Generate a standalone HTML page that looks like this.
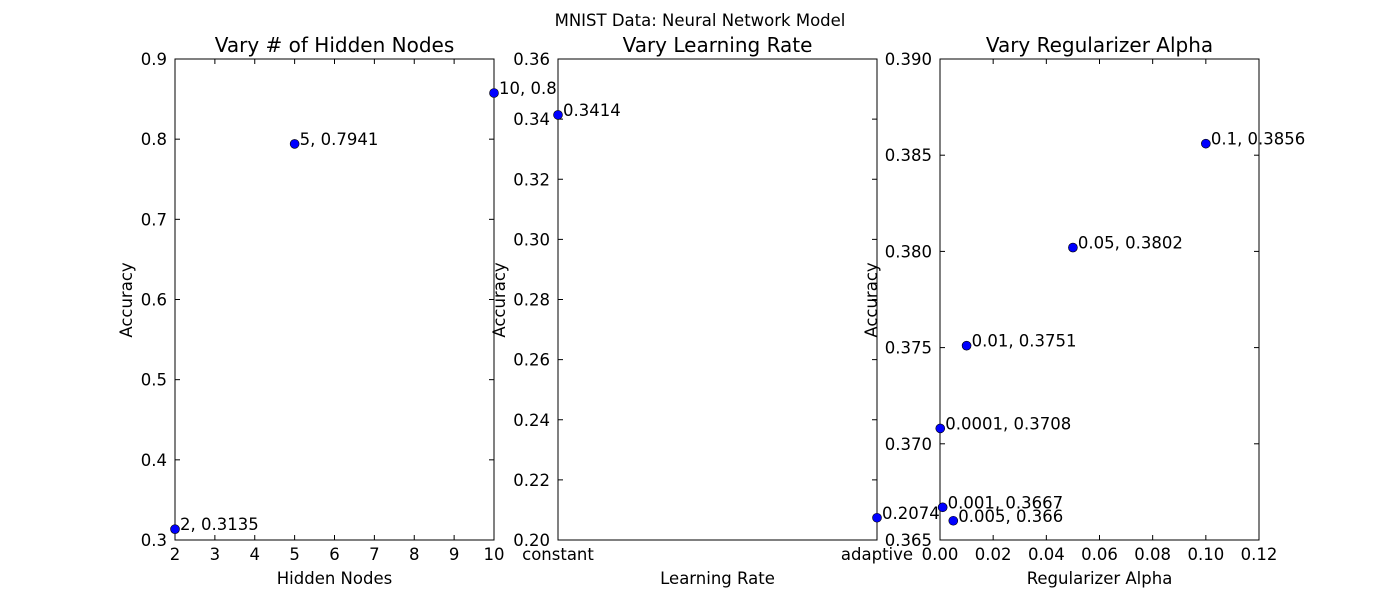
<!DOCTYPE html>
<html><head><meta charset="utf-8"><style>
html,body{margin:0;padding:0;background:#fff}
svg{display:block;font-family:"DejaVu Sans","Liberation Sans",sans-serif}
</style></head><body>
<svg id="chart" width="1400" height="600" xmlns="http://www.w3.org/2000/svg">
<rect width="1400" height="600" fill="#fff"/>
<text x="700" y="26" text-anchor="middle" font-size="16.5">MNIST Data: Neural Network Model</text>
</svg>
<script>
const p1X=[2,5,10];
const p1Y=[0.3135,0.7941,0.8576];
const p1Labels=["2, 0.3135","5, 0.7941","10, 0.8576"];
const p1XTicks=[2,3,4,5,6,7,8,9,10];
const p1YTicks=["0.3","0.4","0.5","0.6","0.7","0.8","0.9"];
const p2Cats=["constant","adaptive"];
const p2Y=[0.3414,0.2074];
const p2Labels=["0.3414","0.2074"];
const p2YTicks=["0.20","0.22","0.24","0.26","0.28","0.30","0.32","0.34","0.36"];
const p3X=[0.0001,0.001,0.005,0.01,0.05,0.1];
const p3Y=[0.3708,0.3667,0.366,0.3751,0.3802,0.3856];
const p3Labels=["0.0001, 0.3708","0.001, 0.3667","0.005, 0.366","0.01, 0.3751","0.05, 0.3802","0.1, 0.3856"];
const p3XTicks=["0.00","0.02","0.04","0.06","0.08","0.10","0.12"];
const p3YTicks=["0.365","0.370","0.375","0.380","0.385","0.390"];

const svgEl=document.getElementById('chart');
const NS='http://www.w3.org/2000/svg';
function mk(tag,attrs,parent){const e=document.createElementNS(NS,tag);for(const k in attrs)e.setAttribute(k,attrs[k]);(parent||svgEl).appendChild(e);return e;}
const axTop=59,axBot=540;
const FS=16.5;

function panel(o){
  const g=mk('g',{});
  
  
  const L=o.left,R=o.left+319;
  const sx=v=>L+(v-o.xmin)/(o.xmax-o.xmin)*(R-L);
  const sy=v=>axBot-(v-o.ymin)/(o.ymax-o.ymin)*(axBot-axTop);
  const bg=mk('rect',{x:L,y:axTop,width:R-L,height:axBot-axTop,fill:'#fff'},g);
  
  
  o.xt.forEach((t,i)=>{
    const v=o.xv(t,i),x=sx(v);
    mk('line',{x1:x,x2:x,y1:axBot,y2:axBot-5,stroke:'#000'},g);
    mk('line',{x1:x,x2:x,y1:axTop,y2:axTop+5,stroke:'#000'},g);
    const tx=mk('text',{x:x,y:axBot+20,'text-anchor':'middle','font-size':FS},g);
    tx.textContent=t;
    
    
  });
  o.yt.forEach(t=>{
    const y=sy(parseFloat(t));
    mk('line',{x1:L,x2:L+5,y1:y,y2:y,stroke:'#000'},g);
    mk('line',{x1:R,x2:R-5,y1:y,y2:y,stroke:'#000'},g);
    const tx=mk('text',{x:L-8,y:y+6,'text-anchor':'end','font-size':FS},g);
    tx.textContent=t;
    
    
  });
  const fr=mk('rect',{x:L,y:axTop,width:R-L,height:axBot-axTop,fill:'none',stroke:'#000'},g);
  
  
  o.px.forEach((xv,i)=>{
    const cx=sx(xv),cy=sy(o.py[i]);
    const c=mk('circle',{cx:cx,cy:cy,r:4.5,fill:'#0000ff',stroke:'#000','stroke-width':0.6},g);
    
    
    const lb=mk('text',{x:cx+5,y:cy+1,'font-size':FS},g);
    lb.textContent=o.labels[i];
    
    
  });
  const ti=mk('text',{x:(L+R)/2,y:axTop-7,'text-anchor':'middle','font-size':20},g);
  ti.textContent=o.title;
  
  
  const xl=mk('text',{x:(L+R)/2,y:584,'text-anchor':'middle','font-size':FS},g);
  xl.textContent=o.xlabel;
  
  
  const yl=mk('text',{x:0,y:0,'text-anchor':'middle','font-size':FS,transform:`translate(${o.ylx},300) rotate(-90)`},g);
  yl.textContent='Accuracy';
  
  
}
panel({name:'hidden-nodes-panel',left:175,xmin:2,xmax:10,ymin:0.3,ymax:0.9,xt:p1XTicks,xv:t=>t,yt:p1YTicks,px:p1X,py:p1Y,labels:p1Labels,title:'Vary # of Hidden Nodes',xlabel:'Hidden Nodes',ylx:132});
panel({name:'learning-rate-panel',left:558,xmin:0,xmax:1,ymin:0.2,ymax:0.36,xt:p2Cats,xv:(t,i)=>i,yt:p2YTicks,px:p2Cats.map((c,i)=>i),py:p2Y,labels:p2Labels,title:'Vary Learning Rate',xlabel:'Learning Rate',ylx:505});
panel({name:'regularizer-alpha-panel',left:940,xmin:0,xmax:0.12,ymin:0.365,ymax:0.39,xt:p3XTicks,xv:t=>parseFloat(t),yt:p3YTicks,px:p3X,py:p3Y,labels:p3Labels,title:'Vary Regularizer Alpha',xlabel:'Regularizer Alpha',ylx:877});
</script>
</body></html>
